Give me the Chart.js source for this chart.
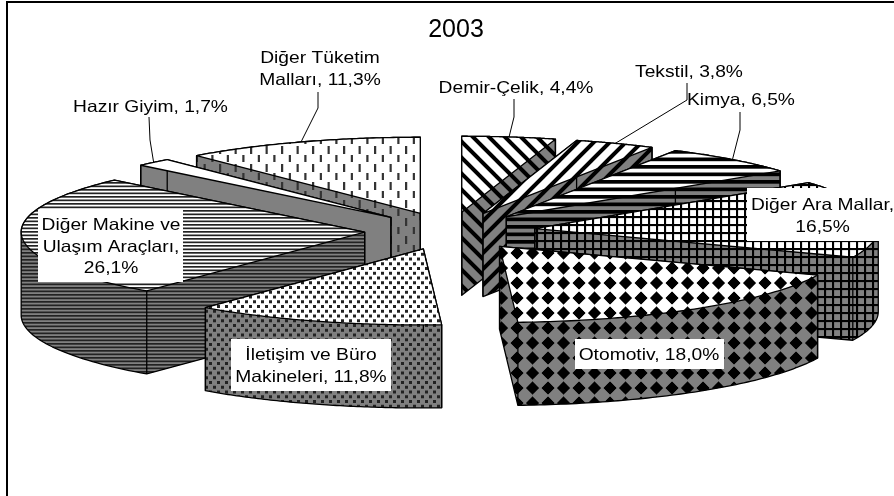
<!DOCTYPE html>
<html lang="tr">
<head>
<meta charset="utf-8">
<title>2003</title>
<style>
html,body{margin:0;padding:0;background:#fff;overflow:hidden}
canvas{display:block}
</style>
<script src="https://cdn.jsdelivr.net/npm/chart.js@4/dist/chart.umd.js"></script>
</head>
<body>
<canvas id="c" width="894" height="496"></canvas>
<script>
const chartTitle = '2003';
const categories = ['Demir-Çelik','Tekstil','Kimya','Diğer Ara Mallar','Otomotiv','İletişim ve Büro Makineleri','Diğer Makine ve Ulaşım Araçları','Hazır Giyim','Diğer Tüketim Malları'];
const shares = [4.4,3.8,6.5,16.5,18.0,11.8,26.1,1.7,11.3];
const labelLines = [
  ['Demir-Çelik, 4,4%'],
  ['Tekstil, 3,8%'],
  ['Kimya, 6,5%'],
  ['Diğer Ara Mallar,','16,5%'],
  ['Otomotiv, 18,0%'],
  ['İletişim ve Büro','Makineleri, 11,8%'],
  ['Diğer Makine ve','Ulaşım Araçları,','26,1%'],
  ['Hazır Giyim, 1,7%'],
  ['Diğer Tüketim','Malları, 11,3%']
];

// Presentation only
const labelCenterX = [516,689,741,822.5,649,311,111,150.5,320];
const labelBaseY   = [93,77,105,210,360,360,230,111.5,63];
const lineStep = 21.5;
const labelBoxes = {3:[747,188,147,53],4:[575,339,149,30],5:[231,339,160,52],6:[38,210,145,72]};
const leaderKnees = {0:[[514,99],[514,117]],1:[[687,83],[687,100]],2:[[740,112],[740,130]],7:[[149,117],[150,140]],8:[[318,92],[318,108]]};
const view = {dx:-6, cy:231, squash:76/343.5, depth:83};
const WALL = '#808080';

function tile(w,h,bg,draw,ox,oy){
  const c=document.createElement('canvas'); c.width=Math.round(w*2); c.height=Math.round(h*2);
  const g=c.getContext('2d'); g.fillStyle=bg; g.fillRect(0,0,c.width,c.height);
  g.scale(2,2); g.fillStyle='#000'; g.strokeStyle='#000'; draw(g,w,h);
  const p=document.createElement('canvas').getContext('2d').createPattern(c,'repeat');
  p.setTransform(new DOMMatrix().translate(ox||0,oy||0).scale(.5));
  return p;
}
function diag(dir){return (g,w,h)=>{
  g.lineWidth=4; g.lineCap='butt';
  for(let k=-1;k<=1;k++){g.beginPath();
    if(dir>0){g.moveTo(k*w-2,-2);g.lineTo(k*w+w+2,h+2);} else {g.moveTo(k*w-2,h+2);g.lineTo(k*w+w+2,-2);}
    g.stroke();}
};}
const hbars=(g,w,h)=>{g.fillRect(0,0,w,3.7);};
const grid=(g,w,h)=>{g.fillRect(0,0,w,2.1);g.fillRect(0,0,2.1,h);};
const diamond=(g,w,h)=>{g.beginPath();g.moveTo(w/2,h/2-6.6);g.lineTo(w/2+6.6,h/2);g.lineTo(w/2,h/2+6.6);g.lineTo(w/2-6.6,h/2);g.closePath();g.fill();};
const dots=(g,w,h)=>{g.fillStyle='#222';g.fillRect(1,1,3,3);g.fillRect(1+w/2,1+h/2,3,3);};
const fine=(g,w,h)=>{g.fillStyle='#222';g.fillRect(0,0,w,1.7);};
const dash=(g,w,h)=>{g.fillStyle='#333';g.fillRect(2,2,2.2,8);g.fillRect(2+w/2,2+h/2,2.2,8);};
const plain=()=>{};
function patternSet(bg){return [
  tile(16,16,bg,diag(1)),
  tile(16,16,bg,diag(-1)),
  tile(8,7.5,bg,hbars),
  tile(8,8,bg,grid),
  tile(15.5,15,bg,diamond,-2.25,5.5),
  tile(8,9.5,bg,dots),
  tile(3.5,3.5,bg,fine),
  tile(8,8,bg,plain),
  tile(15.5,18,bg,dash)
];}
const topPatterns = patternSet('#fff');
const wallPatterns = patternSet(WALL);

function geom(el){
  const o=el.options.offset||0, mid=(el.startAngle+el.endAngle)/2, cx=el.x+view.dx, s=view.squash;
  const ax=cx+o*Math.cos(mid), ay=view.cy+o*Math.sin(mid)*s, r=el.outerRadius;
  const at=a=>[ax+r*Math.cos(a), ay+r*Math.sin(a)*s];
  const arc=[]; const n=72;
  for(let i=0;i<=n;i++) arc.push(at(el.startAngle+(el.endAngle-el.startAngle)*i/n));
  return {apex:[ax,ay],arc,mid,at};
}
function hull(pts){
  const p=pts.slice().sort((a,b)=>a[0]-b[0]||a[1]-b[1]);
  const cr=(o,a,b)=>(a[0]-o[0])*(b[1]-o[1])-(a[1]-o[1])*(b[0]-o[0]);
  const lo=[],up=[];
  for(const q of p){while(lo.length>1&&cr(lo[lo.length-2],lo[lo.length-1],q)<=0)lo.pop();lo.push(q);}
  for(const q of p.reverse()){while(up.length>1&&cr(up[up.length-2],up[up.length-1],q)<=0)up.pop();up.push(q);}
  return lo.slice(0,-1).concat(up.slice(0,-1));
}
function poly(ctx,pts){ctx.beginPath();pts.forEach((q,i)=>i?ctx.lineTo(q[0],q[1]):ctx.moveTo(q[0],q[1]));ctx.closePath();}
function stretched(ctx,t,x,y){ctx.save();ctx.translate(x,y);ctx.scale(1.165,1);ctx.fillText(t,0,0);ctx.restore();}

const pie3d = {
  id:'pie3d',
  beforeDatasetDraw(chart){
    const ctx=chart.ctx, arcs=chart.getDatasetMeta(0).data;
    const order=arcs.map((_,i)=>i).sort((a,b)=>{
      const ma=(arcs[a].startAngle+arcs[a].endAngle)/2, mb=(arcs[b].startAngle+arcs[b].endAngle)/2;
      return Math.sin(ma)-Math.sin(mb);
    });
    ctx.save(); ctx.lineJoin='round'; ctx.strokeStyle='#000'; ctx.lineWidth=1.3;
    for(const i of order){
      const g=geom(arcs[i]), d=view.depth, top=[g.apex,...g.arc];
      const all=top.concat(top.map(q=>[q[0],q[1]+d]));
      poly(ctx,hull(all)); ctx.fillStyle=wallPatterns[i]; ctx.fill(); ctx.stroke();
      for(const q of [g.apex,g.arc[0],g.arc[g.arc.length-1]]){
        ctx.beginPath();ctx.moveTo(q[0],q[1]);ctx.lineTo(q[0],q[1]+d);ctx.stroke();
      }
      poly(ctx,top); ctx.fillStyle=topPatterns[i]; ctx.fill(); ctx.stroke();
    }
    ctx.restore();
    return false;
  },
  afterDatasetsDraw(chart){
    const ctx=chart.ctx, arcs=chart.getDatasetMeta(0).data;
    ctx.save();
    // leader lines run from the label to the middle of the slice's outer edge
    ctx.strokeStyle='#000'; ctx.lineWidth=1;
    Object.keys(leaderKnees).forEach(k=>{
      const g=geom(arcs[k]), e=g.at(g.mid), pts=leaderKnees[k];
      ctx.beginPath();ctx.moveTo(pts[0][0],pts[0][1]);ctx.lineTo(pts[1][0],pts[1][1]);ctx.lineTo(e[0],e[1]);ctx.stroke();
    });
    ctx.fillStyle='#fff';
    Object.values(labelBoxes).forEach(b=>ctx.fillRect(b[0],b[1],b[2],b[3]));
    ctx.fillStyle='#000'; ctx.font='16.5px "Liberation Sans", Arial, sans-serif';
    ctx.textAlign='center'; ctx.textBaseline='alphabetic';
    labelLines.forEach((lines,i)=>lines.forEach((t,j)=>stretched(ctx,t,labelCenterX[i],labelBaseY[i]+j*lineStep)));
    // chart frame: only the top and left edges fall inside the picture
    ctx.strokeStyle='#000'; ctx.lineWidth=2;
    ctx.beginPath();ctx.moveTo(7,496);ctx.lineTo(7,2);ctx.lineTo(894,2);ctx.stroke();
    ctx.restore();
  }
};

new Chart(document.getElementById('c'),{
  type:'pie',
  data:{labels:categories,datasets:[{data:shares,backgroundColor:topPatterns,borderWidth:0,offset:85.5}]},
  options:{
    responsive:false,animation:false,radius:343.5,rotation:0,
    layout:{padding:{left:18}},
    events:[],
    plugins:{
      legend:{display:false},tooltip:{enabled:false},
      title:{display:true,text:chartTitle,color:'#000',padding:{top:15,bottom:0},font:{family:'"Liberation Sans", Arial, sans-serif',size:25,weight:'normal'}}
    }
  },
  plugins:[pie3d]
});
</script>
</body>
</html>
